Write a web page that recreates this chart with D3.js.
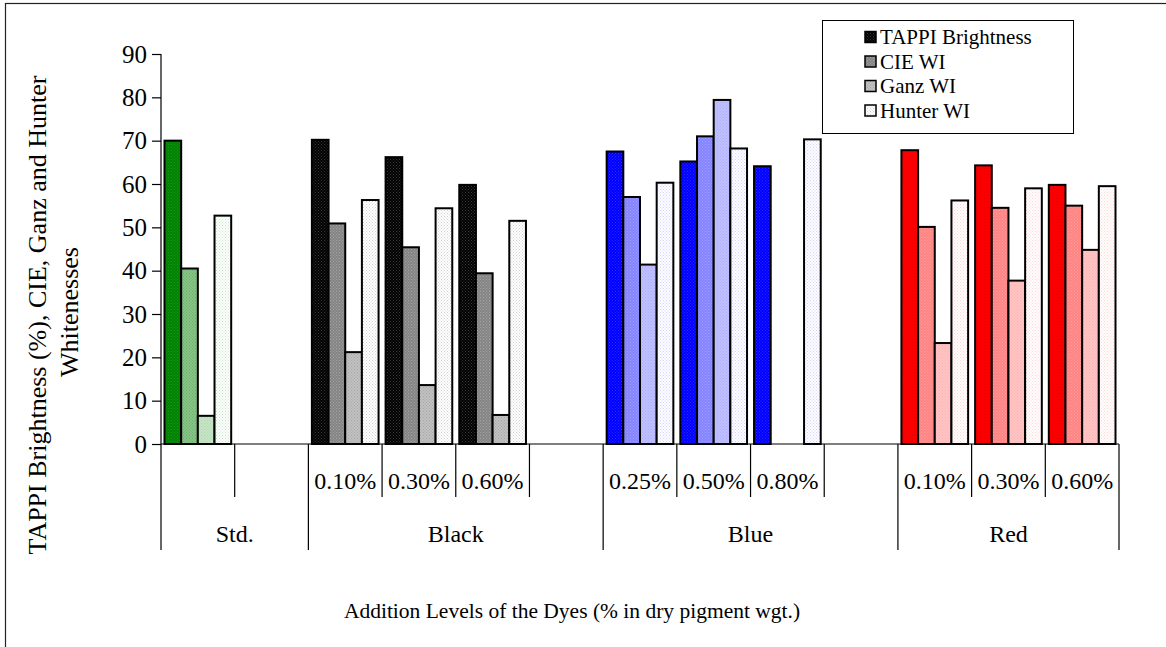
<!DOCTYPE html>
<html>
<head>
<meta charset="utf-8">
<script src="https://cdn.jsdelivr.net/npm/d3@7"></script>
<style>
  html, body { margin: 0; padding: 0; background: #fff; }
  svg { display: block; font-family: "Liberation Serif", "Times New Roman", serif; }
</style>
</head>
<body>
<svg id="chart" width="1166" height="647"></svg>
<script>
// ---- data ----
const slotGroups = ["Std.","Std.","Black","Black","Black","Black","Blue","Blue","Blue","Blue","Red","Red","Red"];
const slotLabels = ["","","0.10%","0.30%","0.60%","","0.25%","0.50%","0.80%","","0.10%","0.30%","0.60%"];
const groupNames = ["Std.","Black","Blue","Red"];
const seriesNames = ["TAPPI Brightness","CIE WI","Ganz WI","Hunter WI"];
const tappi  = [70.0, null, 70.2, 66.2, 59.8, null, 67.5, 65.2, 64.1, null, 67.8, 64.3, 59.8];
const cie    = [40.5, null, 50.9, 45.4, 39.4, null, 57.0, 71.0, null, null, 50.1, 54.5, 55.0];
const ganz   = [6.5,  null, 21.2, 13.6, 6.7,  null, 41.4, 79.4, null, null, 23.3, 37.7, 44.8];
const hunter = [52.7, null, 56.3, 54.4, 51.5, null, 60.3, 68.2, 70.3, null, 56.2, 59.0, 59.5];
const yTicks = [0,10,20,30,40,50,60,70,80,90];
const xTitle = "Addition Levels of the Dyes (% in dry pigment wgt.)";
const yTitle1 = "TAPPI Brightness (%), CIE, Ganz and Hunter";
const yTitle2 = "Whitenesses";

// colours per dye group: [base, dot]
const groupPalettes = {
  "Std.":  [["#008000","#1a9a1a"],["#86c386","#6fb06f"],["#c6e4c6","#b0d6b0"],["#ffffff","#c8e6c8"]],
  "Black": [["#000000","#3a3a3a"],["#848484","#a4a4a4"],["#c0c0c0","#a8a8a8"],["#ffffff","#d0d0d0"]],
  "Blue":  [["#0000ff","#2a2aff"],["#8484ff","#a0a0ff"],["#c0c0ff","#aaaaff"],["#ffffff","#d0d0ff"]],
  "Red":   [["#ff0000","#e80000"],["#ff8484","#ff9c9c"],["#ffc4c4","#ffb0b0"],["#ffffff","#ffd4d4"]]
};
const legendPalette = groupPalettes["Black"];

const seriesValues = [tappi, cie, ganz, hunter];

// ---- layout ----
const svg = d3.select("#chart");
const plot = {left: 161, right: 1119, top: 54, bottom: 444};

// outer frame (clipped by window on right/bottom)
svg.append("rect").attr("x", 5.5).attr("y", 3.5).attr("width", 1200).attr("height", 700)
  .attr("fill", "#fff").attr("stroke", "#222").attr("stroke-width", 1.2);

// patterns
const defs = svg.append("defs");
function patId(g, i) { return "p_" + groupNames.indexOf(g) + "_" + i; }
function makePattern(id, base, dot) {
  const p = defs.append("pattern").attr("id", id).attr("patternUnits", "userSpaceOnUse")
    .attr("width", 3).attr("height", 3);
  p.append("rect").attr("width", 3).attr("height", 3).attr("fill", base);
  p.append("rect").attr("x", 0).attr("y", 0).attr("width", 1).attr("height", 1).attr("fill", dot);
  p.append("rect").attr("x", 1.5).attr("y", 1.5).attr("width", 1).attr("height", 1).attr("fill", dot);
}
groupNames.forEach(g => groupPalettes[g].forEach((c, i) => makePattern(patId(g, i), c[0], c[1])));
legendPalette.forEach((c, i) => makePattern("leg_" + i, c[0], c[1]));

// scales
const slotIdx = d3.range(slotGroups.length);
const x = d3.scaleBand().domain(slotIdx).range([plot.left, plot.right]).paddingInner(0).paddingOuter(0);
const xs = d3.scaleBand().domain(d3.range(seriesNames.length)).range([0, x.bandwidth()]).paddingInner(0).paddingOuter(0.21);
const y = d3.scaleLinear().domain([0, 90]).range([plot.bottom, plot.top]);

// bars
const barData = [];
slotIdx.forEach(s => seriesValues.forEach((arr, k) => {
  if (arr[s] != null) barData.push({slot: s, k: k, v: arr[s], g: slotGroups[s]});
}));
svg.append("g").selectAll("rect").data(barData).join("rect")
  .attr("x", d => x(d.slot) + xs(d.k))
  .attr("y", d => y(d.v))
  .attr("width", xs.bandwidth())
  .attr("height", d => y(0) - y(d.v))
  .attr("fill", d => "url(#" + patId(d.g, d.k) + ")")
  .attr("stroke", "#000").attr("stroke-width", 2);

// y axis
const yAxis = d3.axisLeft(y).tickValues(yTicks).tickSize(9).tickPadding(5).tickFormat(d3.format("d"));
const ya = svg.append("g").attr("transform", `translate(${plot.left},0)`).call(yAxis);
ya.select(".domain").remove();
ya.selectAll(".tick line").attr("stroke", "#000").attr("stroke-width", 1.2);
ya.selectAll(".tick text").attr("font-size", 25).attr("fill", "#000")
  .attr("font-family", "Liberation Serif");
svg.append("line").attr("x1", plot.left).attr("x2", plot.left).attr("y1", plot.top).attr("y2", 550)
  .attr("stroke", "#000").attr("stroke-width", 1.2);

// x baseline
svg.append("line").attr("x1", plot.left).attr("x2", plot.right).attr("y1", plot.bottom).attr("y2", plot.bottom)
  .attr("stroke", "#000").attr("stroke-width", 1.2);

// category separators
const sepG = svg.append("g").attr("stroke", "#000").attr("stroke-width", 1.2);
slotIdx.forEach(s => {
  if (s === 0) return;
  const xx = x(s);
  const isGroupStart = slotGroups[s] !== slotGroups[s - 1];
  sepG.append("line").attr("x1", xx).attr("x2", xx).attr("y1", plot.bottom)
    .attr("y2", isGroupStart ? 550 : 497);
});
sepG.append("line").attr("x1", plot.right).attr("x2", plot.right).attr("y1", plot.bottom).attr("y2", 550);

// sub labels
svg.append("g").selectAll("text").data(slotIdx.filter(s => slotLabels[s] !== "")).join("text")
  .attr("x", s => x(s) + x.bandwidth() / 2).attr("y", 489)
  .attr("text-anchor", "middle").attr("font-size", 24).text(s => slotLabels[s]);

// group labels
groupNames.forEach(g => {
  const slots = slotIdx.filter(s => slotGroups[s] === g);
  const x0 = x(slots[0]), x1 = x(slots[slots.length - 1]) + x.bandwidth();
  svg.append("text").attr("x", (x0 + x1) / 2).attr("y", 542).attr("text-anchor", "middle")
    .attr("font-size", 24).text(g);
});

// axis titles
svg.append("text").attr("x", 572).attr("y", 618).attr("text-anchor", "middle")
  .attr("font-size", 21.5).text(xTitle);
svg.append("text").attr("transform", "translate(46,315) rotate(-90)").attr("text-anchor", "middle")
  .attr("font-size", 26).text(yTitle1);
svg.append("text").attr("transform", "translate(78,312) rotate(-90)").attr("text-anchor", "middle")
  .attr("font-size", 26).text(yTitle2);

// legend
const leg = svg.append("g");
leg.append("rect").attr("x", 822.5).attr("y", 20.5).attr("width", 251).attr("height", 113)
  .attr("fill", "#fff").attr("stroke", "#000").attr("stroke-width", 1);
seriesNames.forEach((n, i) => {
  const cy = 37 + i * 24.5;
  leg.append("rect").attr("x", 865).attr("y", cy - 5.5).attr("width", 11).attr("height", 11)
    .attr("fill", "url(#leg_" + i + ")").attr("stroke", "#000").attr("stroke-width", 1.5);
  leg.append("text").attr("x", 880).attr("y", cy).attr("dy", "0.35em").attr("font-size", 21).text(n);
});
</script>
</body>
</html>
